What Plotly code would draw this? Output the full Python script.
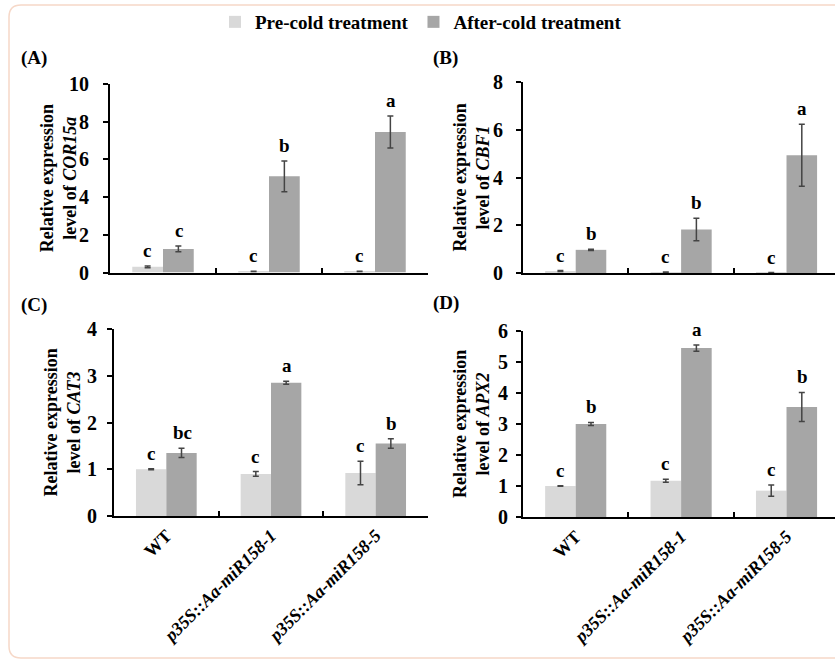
import plotly.graph_objects as go

# ---------------- data ----------------
lines = ["WT", "p35S::Aa-miR158-1", "p35S::Aa-miR158-5"]
tick_text = ["WT", "<i>p35S::Aa-miR158-1</i>", "<i>p35S::Aa-miR158-5</i>"]
series_names = ["Pre-cold treatment", "After-cold treatment"]

panel_ids = ["(A)", "(B)", "(C)", "(D)"]
genes = ["COR15a", "CBF1", "CAT3", "APX2"]

pre_vals = [
    [0.30, 0.05, 0.05],
    [0.08, 0.03, 0.02],
    [1.00, 0.90, 0.92],
    [1.00, 1.17, 0.85],
]
pre_err = [
    [0.05, 0.01, 0.01],
    [0.02, 0.01, 0.00],
    [0.01, 0.05, 0.25],
    [0.01, 0.05, 0.18],
]
post_vals = [
    [1.25, 5.10, 7.45],
    [0.97, 1.82, 4.93],
    [1.35, 2.85, 1.55],
    [3.00, 5.45, 3.55],
]
post_err = [
    [0.15, 0.82, 0.85],
    [0.03, 0.47, 1.30],
    [0.10, 0.03, 0.10],
    [0.05, 0.10, 0.47],
]
pre_letters = [["c", "c", "c"], ["c", "c", "c"], ["c", "c", "c"], ["c", "c", "c"]]
post_letters = [["c", "b", "a"], ["b", "b", "a"], ["bc", "a", "b"], ["b", "a", "b"]]

y_max = [10, 8, 4, 6]
y_dtick = [2, 2, 1, 1]

# ---------------- layout geometry (pixels) ----------------
W, H = 835, 661
FONT = "Liberation Serif"
PRE_COLOR = "#d9d9d9"
POST_COLOR = "#a6a6a6"

# x0, x1, y_bottom, y_top (pixel), x range upper, tick-label standoff
geom = [
    (110, 428, 272.5, 84, 2.5, 10),
    (523, 835, 273, 82, 2.46, 9),
    (114, 428, 516, 329, 2.5, 6),
    (523, 835, 517, 331, 2.46, 4),
]
label_pos = [(19, 58), (431, 58), (19, 305), (431, 303)]


def px(x):
    return x / W


def py(y):
    return 1 - y / H


fig = go.Figure()
annotations = []

for i in range(4):
    ax = "" if i == 0 else str(i + 1)
    xref, yref = "x" + ax, "y" + ax
    fig.add_trace(go.Bar(
        x=lines, y=pre_vals[i], name=series_names[0],
        marker=dict(color=PRE_COLOR, line=dict(width=0)),
        error_y=dict(type="data", array=pre_err[i], color="#444444", thickness=1.5, width=3),
        xaxis=xref, yaxis=yref, showlegend=(i == 0), legendgroup="pre",
        offsetgroup="pre",
    ))
    fig.add_trace(go.Bar(
        x=lines, y=post_vals[i], name=series_names[1],
        marker=dict(color=POST_COLOR, line=dict(width=0)),
        error_y=dict(type="data", array=post_err[i], color="#444444", thickness=1.5, width=3),
        xaxis=xref, yaxis=yref, showlegend=(i == 0), legendgroup="post",
        offsetgroup="post",
    ))
    x0, x1, yb, yt, xr, stand = geom[i]
    show_x_labels = i >= 2
    fig.update_layout(**{
        "xaxis" + ax: dict(
            domain=[px(x0), px(x1)], anchor=yref, type="category",
            range=[-0.5, xr], showline=True, linecolor="black", linewidth=2,
            ticks="inside", tickson="boundaries", ticklen=5, tickwidth=2, tickcolor="black",
            showticklabels=show_x_labels, tickmode="array", tickvals=lines, ticktext=tick_text,
            tickangle=-45, tickfont=dict(family=FONT, size=18, color="black", weight="bold"),
            showgrid=False, zeroline=False, automargin=False, fixedrange=True,
        ),
        "yaxis" + ax: dict(
            domain=[py(yb), py(yt)], anchor=xref, range=[0, y_max[i]], dtick=y_dtick[i],
            showline=True, linecolor="black", linewidth=2,
            ticks="outside", ticklen=5, tickwidth=2, tickcolor="black",
            ticklabelstandoff=stand,
            tickfont=dict(family=FONT, size=20, color="black", weight="bold"),
            showgrid=False, zeroline=False, automargin=False, fixedrange=True,
        ),
    })
    # y-axis title
    annotations.append(dict(
        text="Relative expression<br>level of <i>%s</i>" % genes[i],
        x=px(x0 - 52), xref="paper", y=0.5, yref=yref + " domain",
        textangle=-90, showarrow=False, xanchor="center", yanchor="middle",
        font=dict(family=FONT, size=18, color="black", weight="bold"),
    ))
    # panel label
    lx, ly = label_pos[i]
    annotations.append(dict(
        text=panel_ids[i], x=px(lx), y=py(ly), xref="paper", yref="paper",
        showarrow=False, xanchor="left", yanchor="middle",
        font=dict(family=FONT, size=19, color="black", weight="bold"),
    ))
    # significance letters
    for j in range(3):
        for vals, errs, letters, off in (
            (pre_vals[i], pre_err[i], pre_letters[i], -0.15),
            (post_vals[i], post_err[i], post_letters[i], 0.15),
        ):
            annotations.append(dict(
                text=letters[j], x=j + off, y=vals[j] + errs[j], xref=xref, yref=yref,
                showarrow=False, xanchor="center", yanchor="bottom", yshift=3,
                font=dict(family=FONT, size=19, color="black", weight="bold"),
            ))

# rounded frame
fx0, fy0, fx1, fy1, r = 9, 5, 850, 658, 12
path = (
    f"M {px(fx0 + r)},{py(fy0)} L {px(fx1 - r)},{py(fy0)} "
    f"Q {px(fx1)},{py(fy0)} {px(fx1)},{py(fy0 + r)} L {px(fx1)},{py(fy1 - r)} "
    f"Q {px(fx1)},{py(fy1)} {px(fx1 - r)},{py(fy1)} L {px(fx0 + r)},{py(fy1)} "
    f"Q {px(fx0)},{py(fy1)} {px(fx0)},{py(fy1 - r)} L {px(fx0)},{py(fy0 + r)} "
    f"Q {px(fx0)},{py(fy0)} {px(fx0 + r)},{py(fy0)} Z"
)

fig.update_layout(
    width=W, height=H,
    margin=dict(l=0, r=0, t=0, b=0),
    paper_bgcolor="white", plot_bgcolor="rgba(0,0,0,0)",
    barmode="group", bargap=0.42, bargroupgap=0,
    font=dict(family=FONT, color="black"),
    showlegend=True,
    legend=dict(
        orientation="h", x=px(215), xanchor="left", y=py(3), yanchor="top",
        font=dict(family=FONT, size=19, color="black", weight="bold"),
        bgcolor="rgba(0,0,0,0)", itemwidth=30, traceorder="normal",
    ),
    annotations=annotations,
    shapes=[dict(type="path", path=path, xref="paper", yref="paper",
                 line=dict(color="#f6d8c8", width=1.5), layer="below")],
)

fig.write_html("out.html", include_plotlyjs=True, config={"displayModeBar": False})
